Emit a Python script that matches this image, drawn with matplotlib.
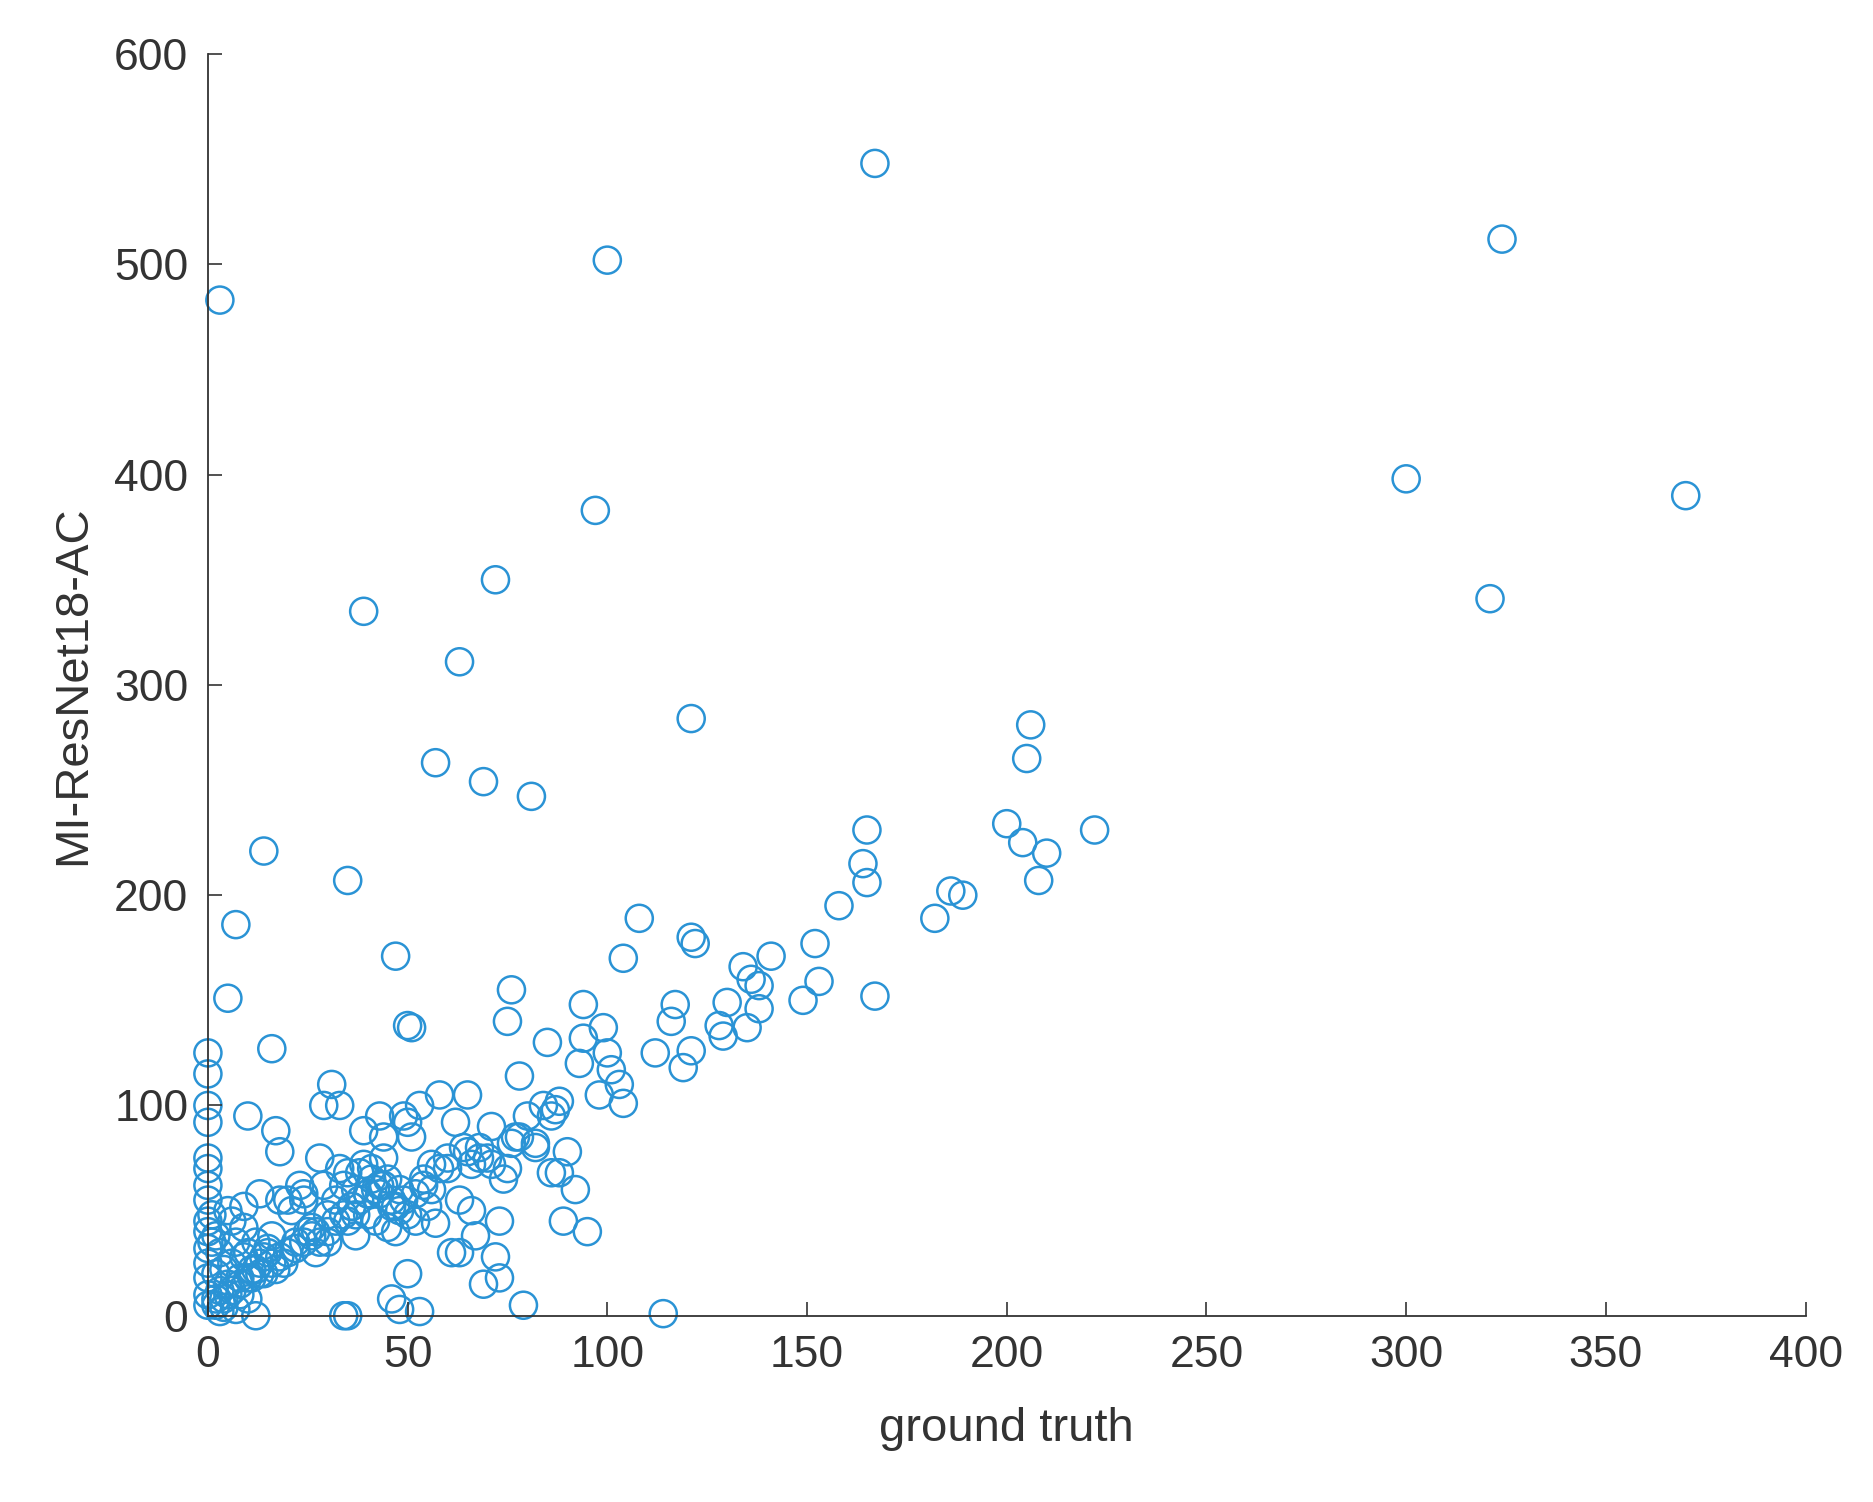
import matplotlib.pyplot as plt

plt.rcParams['font.family'] = ['Liberation Sans', 'DejaVu Sans']

# scattered points away from the main cluster
outlier_gt = [3, 100, 167, 324, 300, 370, 321, 97, 72, 39,
              63, 121, 57, 69, 81, 14, 35, 7, 5, 47,
              16, 50, 51, 79, 114, 34, 35, 12, 0, 0]
outlier_pred = [483, 502, 548, 512, 398, 390, 341, 383, 350, 335,
                311, 284, 263, 254, 247, 221, 207, 186, 151, 171,
                127, 138, 137, 5, 1, 0, 0, 0, 125, 115]

# upper band of the trend (100-230)
band_gt = [206, 205, 200, 204, 210, 208, 222, 165, 164, 165,
           158, 186, 189, 182, 108, 104, 121, 122, 152, 141,
           167, 153, 149, 134, 136, 138, 130, 128, 129, 135,
           138, 117, 116, 121, 119, 112, 76, 75, 94, 94,
           99, 100, 101, 103, 104, 98, 93, 85, 78, 88]
band_pred = [281, 265, 234, 225, 220, 207, 231, 231, 215, 206,
             195, 202, 200, 189, 189, 170, 180, 177, 177, 171,
             152, 159, 150, 166, 160, 157, 149, 138, 133, 137,
             146, 148, 140, 126, 118, 125, 155, 140, 148, 132,
             137, 125, 117, 110, 101, 105, 120, 130, 114, 68]

# dense cluster near the origin
cluster_gt = [0, 0, 0, 0, 0, 0, 0, 0, 0, 0,
              0, 0, 0, 1, 1, 2, 2, 3, 3, 4,
              5, 5, 6, 7, 8, 9, 10, 10, 11, 12,
              13, 14, 15, 16, 17, 18, 19, 20, 21, 22,
              23, 24, 25, 26, 27, 28, 29, 30, 30, 31,
              32, 33, 34, 35, 36, 37, 38, 39, 40, 40,
              41, 42, 43, 44, 45, 46, 47, 48, 49, 50,
              51, 52, 53, 54, 55, 56, 58, 60, 62, 63,
              64, 65, 66, 67, 68, 70, 71, 72, 73, 74,
              75, 76, 77, 80, 82, 84, 86, 87, 88, 89,
              90, 92, 95, 27, 17, 10, 44, 48, 50, 63,
              69, 73, 8, 4, 2, 6, 9, 13, 18, 24,
              29, 33, 37, 43, 46, 53, 57, 61, 66, 71]
cluster_pred = [100, 92, 75, 70, 62, 55, 45, 40, 32, 25,
                18, 10, 5, 48, 35, 20, 8, 30, 12, 4,
                50, 15, 25, 35, 10, 42, 30, 8, 22, 35,
                20, 28, 30, 38, 88, 78, 25, 55, 50, 35,
                62, 58, 40, 42, 30, 75, 100, 48, 35, 110,
                55, 100, 62, 45, 52, 38, 68, 88, 48, 58,
                70, 45, 95, 85, 65, 52, 40, 60, 55, 92,
                85, 58, 100, 62, 52, 72, 105, 70, 92, 55,
                80, 105, 72, 38, 80, 75, 90, 28, 45, 65,
                70, 82, 85, 95, 80, 100, 68, 98, 102, 45,
                78, 60, 40, 40, 22, 95, 75, 3, 20, 30,
                15, 18, 18, 22, 38, 45, 52, 58, 55, 55,
                62, 70, 48, 62, 8, 2, 44, 30, 50, 72]

# extra points along the diagonal in the dense region
diag_gt = [2, 4, 6, 8, 10, 12, 14, 16, 18, 20,
           22, 24, 26, 28, 30, 32, 34, 36, 38, 40,
           42, 44, 46, 48, 50, 52, 54, 56, 58, 60,
           3, 5, 7, 9, 11, 13, 15, 35, 37, 39,
           41, 43, 45, 47, 49, 65, 68, 78, 82, 86]
diag_pred = [5, 8, 12, 15, 18, 22, 20, 25, 28, 30,
             32, 35, 38, 35, 40, 45, 48, 52, 55, 58,
             60, 62, 55, 50, 48, 45, 65, 60, 70, 75,
             2, 10, 3, 28, 18, 25, 32, 68, 60, 72,
             65, 58, 42, 52, 95, 78, 75, 85, 82, 95]

gt = outlier_gt + band_gt + cluster_gt + diag_gt
pred = outlier_pred + band_pred + cluster_pred + diag_pred

fig = plt.figure(figsize=(18.73, 15.02), dpi=100)
ax = fig.add_axes([0.111, 0.124, 0.853, 0.840])
ax.scatter(gt, pred, s=380, facecolors='none', edgecolors='#2a93d5', linewidths=1.8, clip_on=False)
ax.set_xlim(0, 400)
ax.set_ylim(0, 600)
ax.set_xticks(range(0, 401, 50))
ax.set_yticks(range(0, 601, 100))
for s in ['top', 'right']:
    ax.spines[s].set_visible(False)
for s in ['left', 'bottom']:
    ax.spines[s].set_color('#333333')
    ax.spines[s].set_linewidth(1.3)
ax.tick_params(labelsize=32, colors='#333333', direction='in', length=10, width=1.2, pad=14)
ax.set_xlabel('ground truth', fontsize=34, color='#333333', labelpad=22)
ax.set_ylabel('MI-ResNet18-AC', fontsize=34, color='#333333', labelpad=14)
fig.savefig('out.png', dpi=100)
